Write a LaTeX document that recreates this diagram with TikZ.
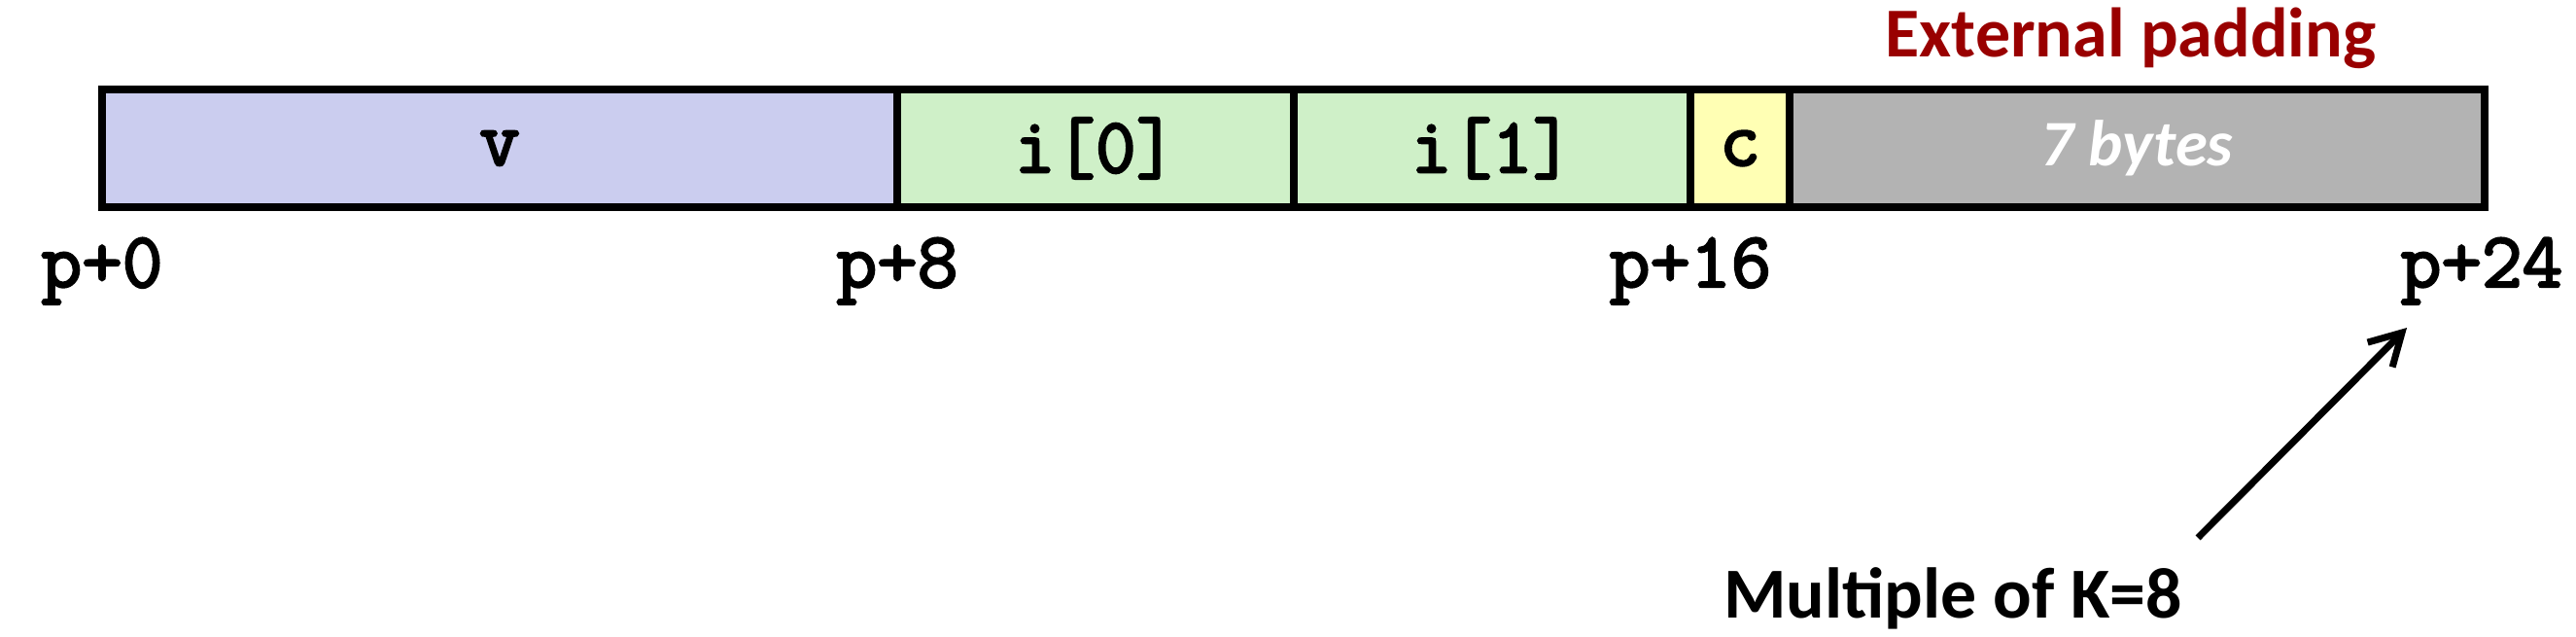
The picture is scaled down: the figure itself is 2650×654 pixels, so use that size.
\documentclass[tikz,border=0pt]{standalone}
\usepackage{fontspec}
\setmainfont{Carlito}
\setmonofont[AutoFakeBold=3]{Latin Modern Mono}
\usetikzlibrary{arrows.meta}
\definecolor{vcol}{RGB}{203,205,239}
\definecolor{icol}{RGB}{207,240,200}
\definecolor{ccol}{RGB}{255,255,180}
\definecolor{pcol}{RGB}{179,179,179}
\definecolor{darkred}{RGB}{153,0,0}
\begin{document}
\begin{tikzpicture}[x=0.1mm,y=-0.1mm,
  cell/.style={draw=black, line width=2.2pt, rectangle, inner sep=0pt, outer sep=0pt,
    minimum height=12.1mm, anchor=north west,
    font=\ttfamily\bfseries\fontsize{23}{25}\selectfont},
  addr/.style={anchor=base, inner sep=0pt, font=\ttfamily\bfseries\fontsize{23}{25}\selectfont},
  note/.style={anchor=base, inner sep=0pt, font=\bfseries\fontsize{21}{24}\selectfont}]
\useasboundingbox (0,0) rectangle (2650,654);
\node[cell, fill=vcol, minimum width=81.8mm] (v) at (105,92) {v};
\node[cell, fill=icol, minimum width=40.8mm] (i0) at (923,92) {i[0]};
\node[cell, fill=icol, minimum width=40.8mm] (i1) at (1331,92) {i[1]};
\node[cell, fill=ccol, minimum width=10.2mm] (c) at (1739,92) {c};
\node[cell, fill=pcol, minimum width=71.5mm, font=\bfseries\itshape\fontsize{19}{22}\selectfont, text=white] (pad) at (1841,92) {7 bytes};
\node[addr] (a0) at (105,295) {p+0};
\node[addr] (a8) at (923,295) {p+8};
\node[addr] (a16) at (1739,295) {p+16};
\node[addr] (a24) at (2553,295) {p+24};
\node[note, text=darkred, font=\bfseries\fontsize{20.5}{24}\selectfont] (ext) at (2192,58) {External padding};
\node[note] (mult) at (2009,635) {Multiple of K=8};
\coordinate (arrS) at (2261,553);
\coordinate (arrE) at (2476,337);
\draw[line width=2pt, -{Straight Barb[length=3.2mm, width=3.6mm, line width=2pt]}] (arrS) -- (arrE);
\end{tikzpicture}
\end{document}
